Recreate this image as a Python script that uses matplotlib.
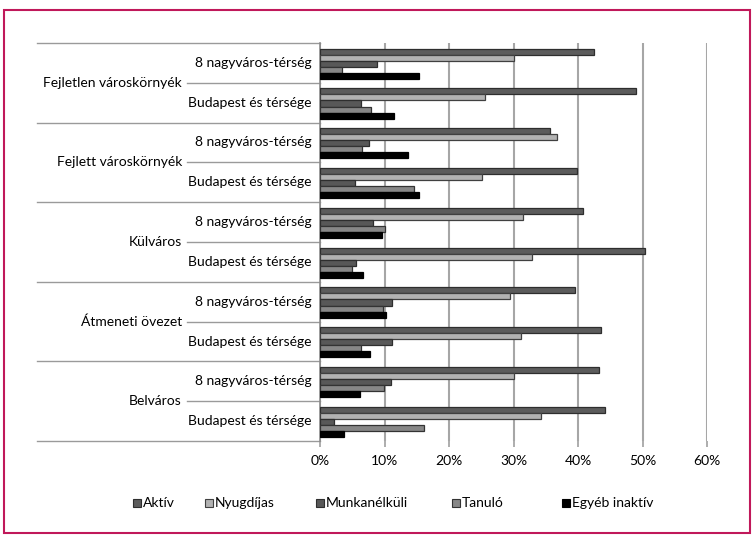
import numpy as np
import matplotlib.pyplot as plt
from matplotlib.patches import Rectangle
from matplotlib.transforms import blended_transform_factory

plt.rcParams['font.family'] = ['Lato', 'DejaVu Sans']

# categories (top to bottom)
kategoriak = ["Fejletlen városkörnyék", "Fejlett városkörnyék", "Külváros",
              "Átmeneti övezet", "Belváros"]
alkategoriak = ["8 nagyváros-térség", "Budapest és térsége"]

sorozatok = ["Aktív", "Nyugdíjas", "Munkanélküli", "Tanuló", "Egyéb inaktív"]

# values in %, one per row (same order as the rows, top to bottom)
aktiv = [42.5, 49.0, 35.6, 39.8, 40.8, 50.4, 39.6, 43.6, 43.2, 44.2]
nyugdijas = [30.0, 25.6, 36.8, 25.1, 31.4, 32.8, 29.4, 31.2, 30.0, 34.2]
munkanelkuli = [8.9, 6.3, 7.6, 5.4, 8.2, 5.6, 11.2, 11.2, 11.0, 2.1]
tanulo = [3.4, 7.9, 6.5, 14.5, 10.1, 4.9, 9.7, 6.4, 9.9, 16.1]
egyeb = [15.4, 11.5, 13.7, 15.3, 9.6, 6.6, 10.3, 7.8, 6.2, 3.7]

szinek = ["#5c5c5c", "#b2b2b2", "#585858", "#878787", "#000000"]
keretek = ["#2e2e2e", "#404040", "#2e2e2e", "#333333", "#000000"]

W, H = 754, 535
fig = plt.figure(figsize=(W / 100, H / 100), dpi=100)
x0, x1, y0, y1 = 320, 707, 43, 441
ax = fig.add_axes([x0 / W, 1 - y1 / H, (x1 - x0) / W, (y1 - y0) / H])

n_sor = len(aktiv)
adatok = [aktiv, nyugdijas, munkanelkuli, tanulo, egyeb]
h = 0.152
kozep = np.arange(n_sor) + 0.52
for j, (ertekek, nev) in enumerate(zip(adatok, sorozatok)):
    ax.barh(kozep + (j - 2) * h, np.array(ertekek) / 100, height=h,
            color=szinek[j], edgecolor=keretek[j], linewidth=0.9,
            label=nev, zorder=3)

ax.set_xlim(0, 0.6)
ax.set_ylim(n_sor, 0)
ax.set_xticks(np.arange(0, 0.61, 0.1))
ax.set_xticklabels([f"{int(round(v * 100))}%" for v in np.arange(0, 0.61, 0.1)],
                   fontsize=10)
ax.tick_params(axis='x', length=4, color='#a0a0a0', width=1.2, pad=6)
ax.set_yticks([])
ax.grid(axis='x', color='#a6a6a6', linewidth=1.5, zorder=0)
for s in ['top', 'right', 'bottom']:
    ax.spines[s].set_visible(False)
ax.spines['left'].set_color('#8a8a8a')
ax.spines['left'].set_linewidth(1.2)

# hierarchical category axis
tr = blended_transform_factory(ax.transAxes, ax.transData)
bal = (37 - x0) / (x1 - x0)
belso = (187 - x0) / (x1 - x0)
for k in range(len(kategoriak) + 1):
    ax.plot([bal, 0], [2 * k, 2 * k], transform=tr, color='#9a9a9a',
            linewidth=1.0, clip_on=False)
for k, kat in enumerate(kategoriak):
    ax.plot([belso, 0], [2 * k + 1, 2 * k + 1], transform=tr, color='#9a9a9a',
            linewidth=1.0, clip_on=False)
    ax.text((182 - x0) / (x1 - x0), 2 * k + 1, kat, transform=tr,
            ha='right', va='center', fontsize=10)
    for i, alk in enumerate(alkategoriak):
        ax.text((312 - x0) / (x1 - x0), 2 * k + i + 0.5, alk, transform=tr,
                ha='right', va='center', fontsize=10)

# legend, placed like the Excel one (uneven spacing)
leg_x = [133, 205, 316, 452, 562]
leg_y = 503
for j, nev in enumerate(sorozatok):
    fig.add_artist(Rectangle((leg_x[j] / W, 1 - (leg_y + 4) / H), 8 / W, 8 / H,
                             transform=fig.transFigure, facecolor=szinek[j],
                             edgecolor=keretek[j], linewidth=0.8))
    fig.text((leg_x[j] + 10) / W, 1 - leg_y / H, nev, ha='left', va='center',
             fontsize=10)

# border
fig.patches.append(Rectangle((4 / W, 1 - 533 / H), 746 / W, 523 / H,
                             transform=fig.transFigure, fill=False,
                             edgecolor='#c0185a', linewidth=1.5))

plt.savefig("out.png", dpi=100)
plt.close()
